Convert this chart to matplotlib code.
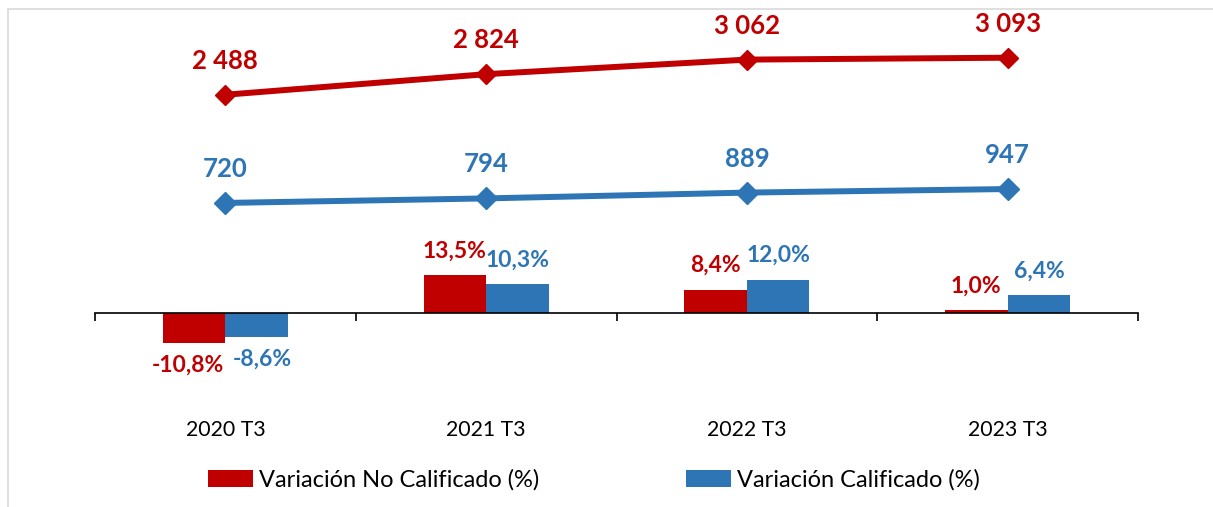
import matplotlib.pyplot as plt
from matplotlib.patches import Rectangle
import numpy as np

# datos
periodos = ['2020 T3', '2021 T3', '2022 T3', '2023 T3']
no_calificado = [2488, 2824, 3062, 3093]
calificado = [720, 794, 889, 947]
var_no_calificado = [-10.8, 13.5, 8.4, 1.0]
var_calificado = [-8.6, 10.3, 12.0, 6.4]

ROJO = '#C00000'
AZUL = '#2E75B6'
W, H = 1213, 507


def fmt_miles(v):
    return '{:,}'.format(v).replace(',', ' ')


def fmt_pct(v):
    return '{:.1f}%'.format(v).replace('.', ',')


def Draw():
    plt.rcParams['font.family'] = ['Lato', 'DejaVu Sans']
    fig = plt.figure(figsize=(W / 100, H / 100), dpi=100)

    # marco gris
    fig.patches.append(Rectangle((8 / W, -0.1), 1.2, 1 - 9 / H + 0.1,
                                 transform=fig.transFigure, fill=False,
                                 edgecolor='#D9D9D9', linewidth=1.2))

    top_px, bot_px = 20, 380
    ax = fig.add_axes([95 / W, (H - bot_px) / H, (1138 - 95) / W,
                       (bot_px - top_px) / H])
    x = np.arange(len(periodos))

    # eje de barras: 0 en y=313, 2.79 px por %
    k1 = 2.79
    ax.set_ylim(-(bot_px - 313) / k1, (313 - top_px) / k1)
    ax.set_xlim(-0.5, len(periodos) - 0.5)
    bw = 0.24
    ax.bar(x - bw / 2, var_no_calificado, bw, color=ROJO,
           label='Variación No Calificado (%)')
    ax.bar(x + bw / 2, var_calificado, bw, color=AZUL,
           label='Variación Calificado (%)')
    for serie, dx, sx, c in [(var_no_calificado, -bw / 2, -1, ROJO),
                             (var_calificado, bw / 2, 1, AZUL)]:
        for xi, v in zip(x, serie):
            if v >= 0:
                off, hoff = 24, 0
            else:
                off, hoff = -22, 6 * sx
            ax.annotate(fmt_pct(v), (xi + dx, v),
                        xytext=(hoff * 0.72, off * 0.72),
                        textcoords='offset points', ha='center', va='center',
                        color=c, fontsize=16.5, fontweight='bold')

    for s in ['top', 'right', 'left']:
        ax.spines[s].set_visible(False)
    ax.spines['bottom'].set_position(('data', 0))
    ax.spines['bottom'].set_linewidth(1.2)
    ax.set_yticks([])
    ax.set_xticks(np.arange(-0.5, len(periodos)), [''] * (len(periodos) + 1))
    ax.tick_params(axis='x', which='major', direction='out', length=6,
                   width=1.2)
    ax.set_xticks(x, periodos, minor=True)
    ax.tick_params(axis='x', which='minor', length=0, pad=77, labelsize=15.3)

    # eje de lineas: 0 en y=247, 0.0612 px por unidad
    ax2 = ax.twinx()
    k2 = 0.0612
    ax2.set_ylim(-(bot_px - 247) / k2, (247 - top_px) / k2)
    ax2.axis('off')
    ax2.plot(x, no_calificado, color=ROJO, lw=4.3, marker='D', ms=10.5)
    ax2.plot(x, calificado, color=AZUL, lw=4.3, marker='D', ms=11.5)
    for serie, c in [(no_calificado, ROJO), (calificado, AZUL)]:
        for xi, v in zip(x, serie):
            ax2.annotate(fmt_miles(v), (xi, v), xytext=(0, 34 * 0.72),
                         textcoords='offset points', ha='center',
                         va='center', color=c, fontsize=18.5,
                         fontweight='bold')

    fig.legend(*ax.get_legend_handles_labels(), loc='center',
               bbox_to_anchor=(594 / W, 1 - 480 / H), ncol=2, frameon=False,
               fontsize=17, handlelength=1.9, handleheight=0.7,
               handletextpad=0.25, columnspacing=6.2)

    fig.savefig('out.png', dpi=100)


def main():
    Draw()


if __name__ == '__main__':
    main()
